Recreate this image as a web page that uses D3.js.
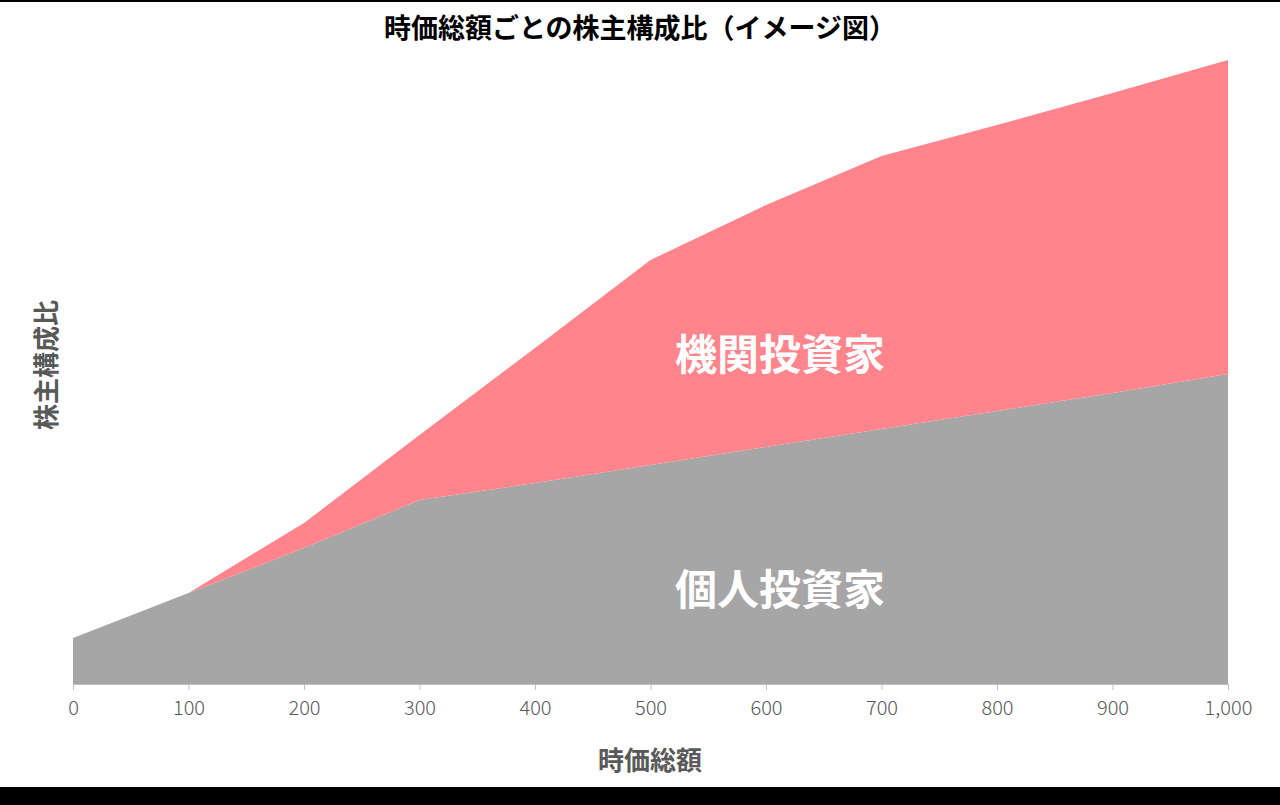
<!DOCTYPE html>
<html><head><meta charset="utf-8">
<script src="https://cdn.jsdelivr.net/npm/d3@7"></script>
<style>body{margin:0;background:#fff}svg{display:block}</style>
</head><body>
<svg id="c" width="1280" height="805"></svg>
<script>
const marketCap = [0,100,200,300,400,500,600,700,800,900,1000];
const individual = [46,91,136,184,201,219,237,255,273,291,310];
const institutional = [0,0,25,65,135,205,242,273,286,300,314];
const tickLabels = ["0","100","200","300","400","500","600","700","800","900","1,000"];

const svg = d3.select("#c");
const font = "'Noto Sans CJK JP','Noto Sans',sans-serif";
const x = d3.scaleLinear().domain([0,1000]).range([73,1228]);
const y = d3.scaleLinear().domain([0,624]).range([684,60]);

const data = marketCap.map((m,i)=>({m, ind:individual[i], inst:institutional[i]}));
const stack = d3.stack().keys(["ind","inst"])(data);
const colors = {ind:"#a6a6a6", inst:"#ff848c"};
const area = d3.area().x(d=>x(d.data.m)).y0(d=>y(d[0])).y1(d=>y(d[1]));
svg.selectAll("path.layer").data(stack).join("path")
  .attr("d",area).attr("fill",d=>colors[d.key]);

const ax = svg.append("g").attr("transform","translate(0,684)")
  .call(d3.axisBottom(x).tickValues(marketCap).tickFormat((d,i)=>tickLabels[i]).tickSize(6).tickSizeOuter(0));
ax.select(".domain").attr("stroke","#bfbfbf");
ax.selectAll(".tick line").attr("stroke","#bfbfbf");
ax.selectAll("text").attr("fill","#595959").attr("font-size",20).attr("font-family",font).attr("font-weight",300).attr("dy","1.1em");

svg.append("text").attr("x",640).attr("y",38).attr("text-anchor","middle")
  .attr("font-family",font).attr("font-weight",700).attr("font-size",27).attr("fill","#000")
  .text("時価総額ごとの株主構成比（イメージ図）");
svg.append("text").attr("x",650).attr("y",770).attr("text-anchor","middle")
  .attr("font-family",font).attr("font-weight",700).attr("font-size",26).attr("fill","#595959").text("時価総額");
svg.append("text").attr("transform","translate(56,365) rotate(-90)").attr("text-anchor","middle")
  .attr("font-family",font).attr("font-weight",700).attr("font-size",26).attr("fill","#595959").text("株主構成比");
svg.append("text").attr("x",780).attr("y",370).attr("text-anchor","middle")
  .attr("font-family",font).attr("font-weight",700).attr("font-size",42).attr("fill","#fff").text("機関投資家");
svg.append("text").attr("x",780).attr("y",605).attr("text-anchor","middle")
  .attr("font-family",font).attr("font-weight",700).attr("font-size",42).attr("fill","#fff").text("個人投資家");
svg.append("rect").attr("x",0).attr("y",787).attr("width",1280).attr("height",18).attr("fill","#000");
svg.append("rect").attr("x",0).attr("y",0).attr("width",1280).attr("height",2).attr("fill","#000");
</script>
</body></html>
